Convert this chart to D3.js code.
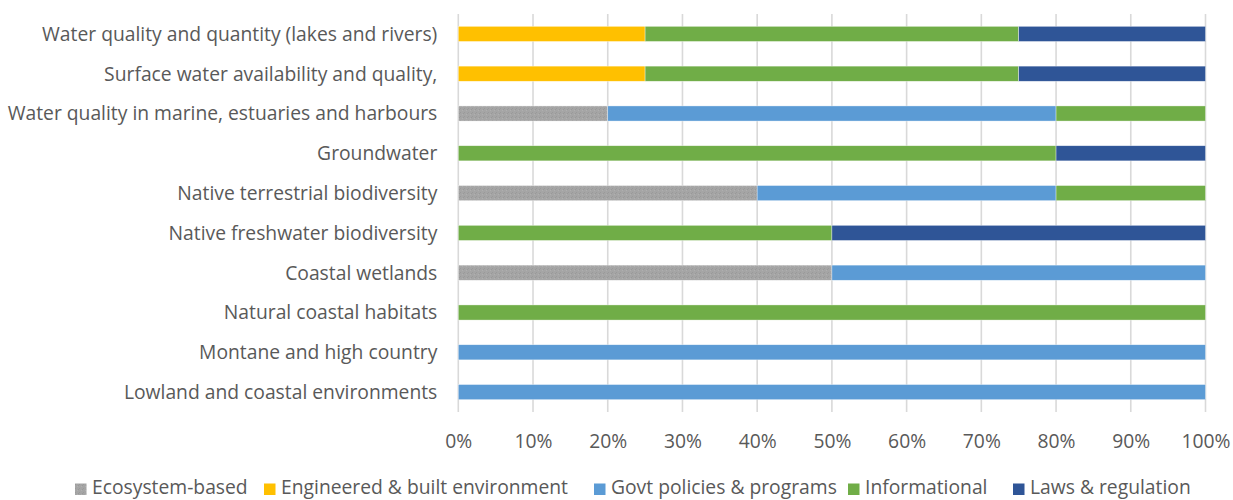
<!DOCTYPE html>
<html><head><meta charset="utf-8">
<script src="https://cdn.jsdelivr.net/npm/d3@7"></script>
<style>body{margin:0;background:#fff;} svg{display:block;}</style>
</head><body><svg id="c" width="1233" height="500"></svg>
<script>
const categories = ["Water quality and quantity (lakes and rivers)","Surface water availability and quality, ","Water quality in marine, estuaries and harbours","Groundwater","Native terrestrial biodiversity","Native freshwater biodiversity","Coastal wetlands","Natural coastal habitats","Montane and high country","Lowland and coastal environments"];
const seriesNames = ["Ecosystem-based","Engineered & built environment","Govt policies & programs","Informational","Laws & regulation"];
const ecosystem   = [0,0,20,0,40,0,50,0,0,0];
const engineered  = [25,25,0,0,0,0,0,0,0,0];
const govt        = [0,0,60,0,40,0,50,0,100,100];
const informational=[50,50,20,80,20,50,0,100,0,0];
const laws        = [25,25,0,20,0,50,0,0,0,0];
const tickValues = [0,10,20,30,40,50,60,70,80,90,100];
const colors = ["#A5A5A5","#FFC000","#5B9BD5","#70AD47","#2F5597"];

const seriesVals = [ecosystem, engineered, govt, informational, laws];
const rows = categories.map((c,i)=>{const o={cat:c}; seriesNames.forEach((s,j)=>o[s]=seriesVals[j][i]); return o;});
const stack = d3.stack().keys(seriesNames)(rows);

const svg = d3.select("#c");
const font = "'Open Sans', sans-serif";
const fs = 19.3;
const x = d3.scaleLinear().domain([0,100]).range([458.3,1205.5]);
const y = d3.scaleBand().domain(categories).range([14,412]).paddingInner(0.62).paddingOuter(0.31);

const defs = svg.append("defs");
const pat = defs.append("pattern").attr("id","dots").attr("width",4).attr("height",4).attr("patternUnits","userSpaceOnUse");
pat.append("rect").attr("width",4).attr("height",4).attr("fill","#A5A5A5");
pat.append("rect").attr("x",0).attr("y",0).attr("width",1).attr("height",1).attr("fill","#9a9a9a");
pat.append("rect").attr("x",2).attr("y",2).attr("width",1).attr("height",1).attr("fill","#b0b0b0");
pat.append("rect").attr("x",3).attr("y",1).attr("width",1).attr("height",1).attr("fill","#999");

svg.append("g").selectAll("line").data(tickValues).join("line")
  .attr("x1",d=>x(d)).attr("x2",d=>x(d)).attr("y1",14).attr("y2",412)
  .attr("stroke","#D9D9D9").attr("stroke-width",1.6);

svg.append("g").selectAll("g").data(stack).join("g")
  .attr("fill",(d,i)=> i===0 ? "url(#dots)" : colors[i])
  .selectAll("rect").data(d=>d).join("rect")
  .attr("x",d=>x(d[0])).attr("width",d=>x(d[1])-x(d[0]))
  .attr("y",d=>y(d.data.cat)).attr("height",y.bandwidth())
  .attr("stroke","#fff").attr("stroke-width",0.6).attr("stroke-opacity",0.6);

const yAxis = svg.append("g").attr("transform","translate(458.3,0)")
  .call(d3.axisLeft(y).tickSize(0).tickPadding(21));
yAxis.select(".domain").remove();
yAxis.selectAll("text").attr("font-family",font).attr("font-size",fs).attr("fill","#595959").attr("dy","0.36em");

const xAxis = svg.append("g").attr("transform","translate(0,412)")
  .call(d3.axisBottom(x).tickValues(tickValues).tickFormat(d=>d+"%").tickSize(0).tickPadding(22));
xAxis.select(".domain").remove();
xAxis.selectAll("text").attr("font-family",font).attr("font-size",fs).attr("fill","#595959");

const legX = [75,264,594,848,1013];
const lg = svg.append("g").selectAll("g").data(seriesNames).join("g")
  .attr("transform",(d,i)=>`translate(${legX[i]},488)`);
lg.append("rect").attr("x",0).attr("y",-4.5).attr("width",11.5).attr("height",11.5)
  .attr("fill",(d,i)=> i===0 ? "url(#dots)" : colors[i]);
lg.append("text").attr("x",17).attr("y",0).attr("dy","0.3em")
  .attr("font-family",font).attr("font-size",fs).attr("fill","#595959").text(d=>d);
</script></body></html>
